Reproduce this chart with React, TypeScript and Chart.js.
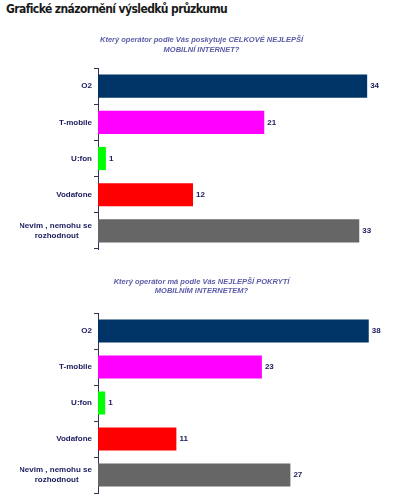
import React, { useEffect, useRef } from "react";
import { Chart, registerables } from "chart.js";

Chart.register(...registerables);

const pageTitle = "Grafické znázornění výsledků průzkumu";

const categories: (string | string[])[] = [
  "O2",
  "T-mobile",
  "U:fon",
  "Vodafone",
  ["Nevim , nemohu se", "rozhodnout\u00a0\u00a0\u00a0\u00a0\u00a0\u00a0"],
];
const barColors = ["#003366", "#ff00ff", "#00ff00", "#ff0000", "#666666"];

const question1 = ["Který operátor podle Vás poskytuje CELKOVÉ NEJLEPŠÍ", "MOBILNÍ INTERNET?"];
const values1 = [34, 21, 1, 12, 33];
const max1 = 36;

const question2 = ["Který operátor má podle Vás NEJLEPŠÍ POKRYTÍ", "MOBILNÍM INTERNETEM?"];
const values2 = [38, 23, 1, 11, 27];
const max2 = 40;

const labelColor = "#1a1a5e";

const valueLabelPlugin = {
  id: "valueLabels",
  afterDatasetsDraw(chart: any) {
    const ctx = chart.ctx;
    const meta = chart.getDatasetMeta(0);
    const data = chart.data.datasets[0].data;
    ctx.save();
    ctx.font = "bold 8px Arial, 'Liberation Sans', sans-serif";
    ctx.fillStyle = labelColor;
    ctx.textAlign = "left";
    ctx.textBaseline = "middle";
    meta.data.forEach((bar: any, i: number) => {
      ctx.fillText(String(data[i]), bar.x + 3, bar.y);
    });
    ctx.restore();
  },
};

type BarProps = {
  question: string[];
  values: number[];
  max: number;
  top: number;
  height: number;
  titleTop: number;
  titleBottom: number;
  bottomPad: number;
};

function SurveyBar({ question, values, max, top, height, titleTop, titleBottom, bottomPad }: BarProps) {
  const ref = useRef<HTMLCanvasElement | null>(null);
  useEffect(() => {
    if (!ref.current) return;
    const chart = new Chart(ref.current, {
      type: "bar",
      data: {
        labels: categories,
        datasets: [
          {
            data: values,
            backgroundColor: barColors,
            borderWidth: 0,
            barPercentage: 0.64,
            categoryPercentage: 1,
          },
        ],
      },
      options: {
        indexAxis: "y",
        animation: false,
        responsive: false,
        devicePixelRatio: 1,
        layout: { padding: { left: 20, right: 15, top: 0, bottom: bottomPad } },
        plugins: {
          legend: { display: false },
          tooltip: { enabled: false },
          title: {
            display: true,
            text: question,
            color: "#5c5ca8",
            font: { family: "Arial, 'Liberation Sans', sans-serif", size: 7.5, style: "italic", lineHeight: 1.25 },
            padding: { top: titleTop, bottom: titleBottom },
          },
        },
        scales: {
          x: { display: false, min: 0, max: max },
          y: {
            afterFit: (s: any) => {
              s.width = 78;
            },
            border: { display: true, color: "#333355", width: 1 },
            grid: {
              display: true,
              offset: true,
              drawOnChartArea: false,
              drawTicks: true,
              tickLength: 4,
              color: "#333355",
            },
            ticks: {
              color: labelColor,
              padding: 2,
              font: { family: "Arial, 'Liberation Sans', sans-serif", size: 8, weight: "bold", lineHeight: 1.25 },
            },
          },
        },
      },
      plugins: [valueLabelPlugin],
    });
    return () => chart.destroy();
  }, []);
  return (
    <canvas
      ref={ref}
      width={398}
      height={height}
      style={{ position: "absolute", left: 0, top, width: 398, height }}
    />
  );
}

export default function App() {
  return (
    <div style={{ position: "absolute", left: 0, top: 0, width: 398, height: 500, background: "#fff" }}>
      <div
        style={{
          position: "absolute",
          left: 6,
          top: 2,
          font: "bold 12px 'DejaVu Sans Condensed', 'DejaVu Sans', sans-serif",
          letterSpacing: "-0.6px",
          color: "#1a1a1a",
          whiteSpace: "nowrap",
        }}
      >
        {pageTitle}
      </div>
      <SurveyBar question={question1} values={values1} max={max1} top={30} height={226} titleTop={5.5} titleBottom={13.8} bottomPad={4} />
      <SurveyBar question={question2} values={values2} max={max2} top={272} height={228} titleTop={5} titleBottom={17.3} bottomPad={7} />
    </div>
  );
}
